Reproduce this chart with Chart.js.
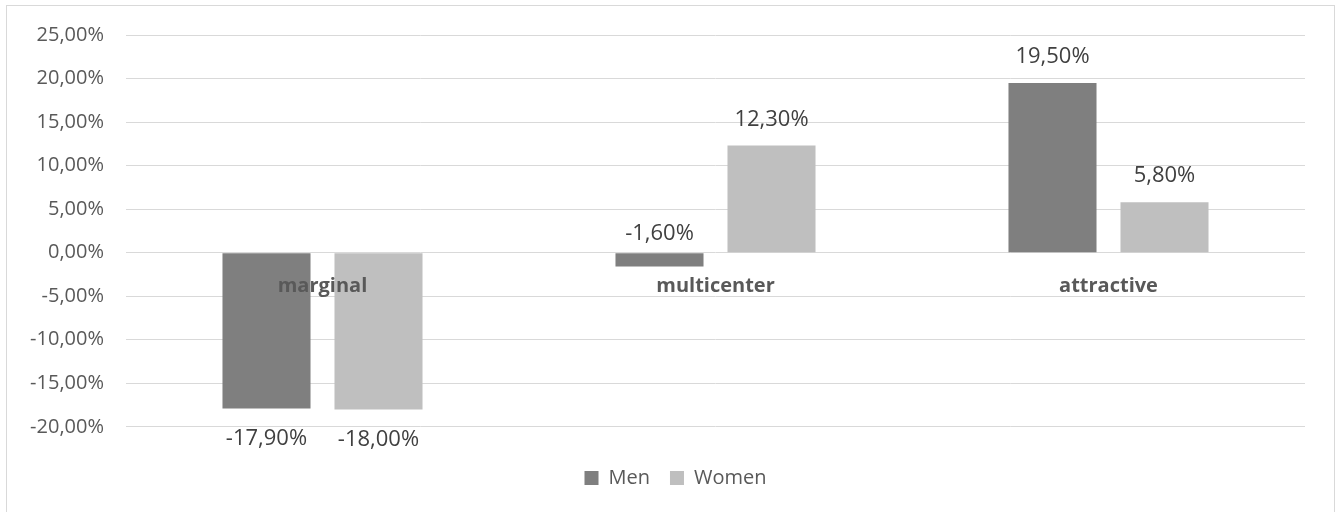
<!DOCTYPE html>
<html>
<head>
<meta charset="utf-8">
<script src="https://cdn.jsdelivr.net/npm/chart.js@4.4.1/dist/chart.umd.min.js"></script>
<style>
  html, body { margin: 0; padding: 0; background: #fff; }
  canvas { display: block; }
</style>
</head>
<body>
<canvas id="chart" width="1341" height="512"></canvas>
<script>
// categories and series (values in percent)
var categories = ['marginal', 'multicenter', 'attractive'];
var seriesNames = ['Men', 'Women'];
var menValues = [-17.9, -1.6, 19.5];
var womenValues = [-18.0, 12.3, 5.8];

// value axis range
var yMin = -20;
var yMax = 25;
var yStep = 5;

function pct(v) {
  return v.toFixed(2).replace('.', ',') + '%';
}

// light grey frame around the whole chart
var frameBorder = {
  id: 'frameBorder',
  beforeDraw: function(chart) {
    var ctx = chart.ctx;
    ctx.save();
    ctx.strokeStyle = '#d9d9d9';
    ctx.lineWidth = 1;
    ctx.strokeRect(6.5, 5.5, chart.width - 13, chart.height + 10);
    ctx.restore();
  }
};

// center the legend on the frame rather than on the padded box
var legendShift = {
  id: 'legendShift',
  afterLayout: function(chart) {
    if (chart.legend) {
      chart.legend.left += 23;
      chart.legend.right += 23;
    }
  }
};

// category names sit just under the zero line, on top of the bars
var zeroAxisLabels = {
  id: 'zeroAxisLabels',
  afterDatasetsDraw: function(chart) {
    var ctx = chart.ctx;
    var x = chart.scales.x;
    var y0 = chart.scales.y.getPixelForValue(0);
    ctx.save();
    ctx.font = 'bold 20px "Open Sans"';
    ctx.fillStyle = '#595959';
    ctx.textAlign = 'center';
    ctx.textBaseline = 'middle';
    categories.forEach(function(c, i) {
      ctx.fillText(c, x.getPixelForValue(i), y0 + 34);
    });
    ctx.restore();
  }
};

// value labels outside the end of each bar
var valueLabels = {
  id: 'valueLabels',
  afterDatasetsDraw: function(chart) {
    var ctx = chart.ctx;
    ctx.save();
    ctx.font = '22px "Open Sans"';
    ctx.fillStyle = '#404040';
    ctx.textAlign = 'center';
    ctx.textBaseline = 'middle';
    chart.data.datasets.forEach(function(ds, di) {
      chart.getDatasetMeta(di).data.forEach(function(bar, i) {
        var v = ds.data[i];
        var y;
        if (v >= 0) {
          y = bar.y - 26;
        } else if (bar.y - bar.base < 30) {
          y = bar.base - 19;  // short negative bar: keep label clear of the category name
        } else {
          y = bar.y + 30;
        }
        ctx.fillText(pct(v), bar.x, y);
      });
    });
    ctx.restore();
  }
};

var ctx = document.getElementById('chart').getContext('2d');
new Chart(ctx, {
  type: 'bar',
  data: {
    labels: categories,
    datasets: [
      {
        label: seriesNames[0],
        data: menValues,
        backgroundColor: '#7f7f7f',
        borderWidth: 0
      },
      {
        label: seriesNames[1],
        data: womenValues,
        backgroundColor: '#bfbfbf',
        borderWidth: 0
      }
    ]
  },
  options: {
    responsive: false,
    animation: false,
    devicePixelRatio: 1,
    categoryPercentage: 0.57,
    barPercentage: 0.786,
    layout: {
      padding: { left: 0, right: 36, top: 35, bottom: 14 }
    },
    plugins: {
      legend: {
        position: 'bottom',
        title: {
          display: true,
          text: '',
          font: { size: 1 },
          padding: { top: 0, bottom: 20 }
        },
        labels: {
          boxWidth: 14,
          boxHeight: 14,
          padding: 20,
          color: '#595959',
          font: { family: '"Open Sans"', size: 20 }
        }
      },
      tooltip: { enabled: false }
    },
    scales: {
      x: {
        display: false
      },
      y: {
        min: yMin,
        max: yMax,
        afterFit: function(scale) { scale.width = 126; },
        ticks: {
          stepSize: yStep,
          padding: 22,
          color: '#595959',
          font: { family: '"Open Sans"', size: 20 },
          callback: function(v) { return pct(v); }
        },
        grid: {
          color: '#d9d9d9',
          lineWidth: 1,
          drawTicks: false
        },
        border: { display: false }
      }
    }
  },
  plugins: [frameBorder, legendShift, zeroAxisLabels, valueLabels]
});
</script>
</body>
</html>
